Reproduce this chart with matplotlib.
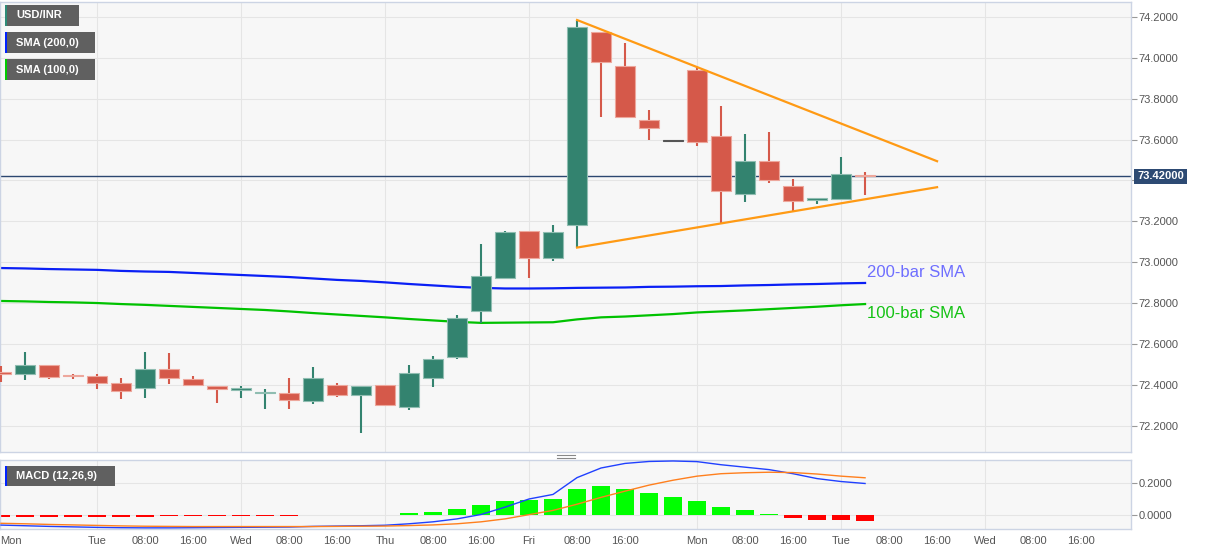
import numpy as np
import matplotlib.pyplot as plt
import matplotlib.transforms as mtransforms
from matplotlib.patches import Rectangle
from matplotlib.lines import Line2D

plt.rcParams['font.family'] = ['Liberation Sans', 'DejaVu Sans']

# --- USD/INR 4h candles (bar index 0..36) ---
opens = [72.463, 72.453, 72.497, 72.451, 72.445, 72.411, 72.385, 72.480, 72.429, 72.397,
         72.378, 72.362, 72.362, 72.324, 72.402, 72.353, 72.402, 72.292, 72.436, 72.539,
         72.762, 72.922, 73.155, 73.023, 73.181, 74.124, 73.958, 73.694, 73.594, 73.940,
         73.617, 73.334, 73.494, 73.373, 73.305, 73.311, 73.428]
highs = [72.494, 72.562, 72.499, 72.456, 72.456, 72.435, 72.562, 72.557, 72.445, 72.397,
         72.396, 72.381, 72.435, 72.489, 72.412, 72.397, 72.402, 72.498, 72.542, 72.743,
         73.090, 73.153, 73.155, 73.182, 74.180, 74.124, 74.073, 73.744, 73.596, 73.956,
         73.764, 73.627, 73.637, 73.407, 73.313, 73.516, 73.441]
lows = [72.417, 72.425, 72.432, 72.432, 72.381, 72.332, 72.339, 72.407, 72.400, 72.314,
        72.339, 72.284, 72.284, 72.309, 72.342, 72.166, 72.305, 72.279, 72.392, 72.528,
        72.702, 72.922, 72.925, 73.007, 73.072, 73.711, 73.711, 73.598, 73.592, 73.570,
        73.194, 73.296, 73.389, 73.251, 73.285, 73.311, 73.329]
closes = [72.456, 72.497, 72.438, 72.443, 72.412, 72.373, 72.479, 72.436, 72.401, 72.383,
          72.385, 72.368, 72.329, 72.436, 72.353, 72.397, 72.305, 72.458, 72.528, 72.727,
          72.935, 73.150, 73.023, 73.148, 74.151, 73.980, 73.711, 73.655, 73.594, 73.589,
          73.349, 73.495, 73.402, 73.298, 73.313, 73.433, 73.422]

sma200 = [72.972, 72.970, 72.967, 72.965, 72.963, 72.958, 72.955, 72.953, 72.948, 72.943,
          72.938, 72.933, 72.928, 72.921, 72.914, 72.909, 72.902, 72.894, 72.887, 72.880,
          72.875, 72.872, 72.872, 72.873, 72.875, 72.876, 72.877, 72.880, 72.881, 72.883,
          72.884, 72.887, 72.889, 72.892, 72.894, 72.897, 72.899]
sma100 = [72.811, 72.809, 72.806, 72.804, 72.801, 72.796, 72.792, 72.787, 72.782, 72.777,
          72.772, 72.767, 72.760, 72.752, 72.745, 72.738, 72.731, 72.723, 72.716, 72.709,
          72.704, 72.705, 72.706, 72.707, 72.721, 72.731, 72.735, 72.741, 72.747, 72.755,
          72.760, 72.765, 72.771, 72.777, 72.783, 72.790, 72.796]

# --- MACD (12,26,9) ---
macd_line = [-0.060, -0.064, -0.068, -0.071, -0.074, -0.076, -0.077, -0.077, -0.076, -0.075,
             -0.074, -0.073, -0.072, -0.068, -0.066, -0.064, -0.061, -0.052, -0.040, -0.022,
             0.005, 0.050, 0.100, 0.128, 0.231, 0.290, 0.318, 0.330, 0.333, 0.329,
             0.310, 0.295, 0.280, 0.255, 0.225, 0.207, 0.195]
signal_line = [-0.049, -0.052, -0.056, -0.059, -0.062, -0.065, -0.067, -0.068, -0.069, -0.069,
               -0.069, -0.069, -0.069, -0.069, -0.068, -0.067, -0.066, -0.063, -0.059, -0.052,
               -0.040, -0.022, 0.004, 0.030, 0.068, 0.110, 0.148, 0.185, 0.215, 0.240,
               0.255, 0.261, 0.264, 0.262, 0.253, 0.240, 0.230]
macd_hist = [-0.012, -0.012, -0.011, -0.011, -0.010, -0.009, -0.008, -0.004, -0.004, -0.003,
             -0.003, -0.002, -0.002, 0.002, 0.002, 0.003, 0.003, 0.014, 0.020, 0.040,
             0.065, 0.090, 0.096, 0.098, 0.161, 0.180, 0.163, 0.139, 0.112, 0.088,
             0.051, 0.033, 0.008, -0.015, -0.027, -0.031, -0.033]

# time axis
tick_pos = [0.42, 4, 6, 8, 10, 12, 14, 16, 18, 20, 22, 24, 26, 29, 31, 33, 35, 37, 39, 41, 43, 45]
tick_labels = ['Mon', 'Tue', '08:00', '16:00', 'Wed', '08:00', '16:00', 'Thu', '08:00', '16:00',
               'Fri', '08:00', '16:00', 'Mon', '08:00', '16:00', 'Tue', '08:00', '16:00',
               'Wed', '08:00', '16:00']
day_lines = [4, 10, 16, 22, 29, 35, 41]

# symmetrical triangle
upper_x, upper_y = [24, 39], [74.184, 73.494]
lower_x, lower_y = [24, 39], [73.072, 73.367]
last_price = 73.42

GREEN, RED, DOJI = '#33836f', '#d5594a', '#555555'
BG, GRID, SPINE = '#f7f7f7', '#e5e5e5', '#ccd4e4'

fig = plt.figure(figsize=(12.07, 5.55), dpi=100)
W, H = 1207, 555
def fbox(x0, y0, x1, y1):
    return [x0 / W, 1 - y1 / H, (x1 - x0) / W, (y1 - y0) / H]

ax = fig.add_axes(fbox(0, 2, 1131, 452))
ax2 = fig.add_axes(fbox(0, 460, 1131, 529), sharex=ax)

for a in (ax, ax2):
    a.set_facecolor(BG)
    for s in a.spines.values():
        s.set_color(SPINE)
        s.set_linewidth(1)
    a.yaxis.tick_right()
    a.tick_params(axis='y', colors='#999999', labelcolor='#555555', labelsize=8,
                  length=4, width=0.8, pad=1.5)
    for d in day_lines:
        a.axvline(d, color=GRID, lw=0.8, zorder=0)

# --- candles ---
n = len(opens)
xs = np.arange(n)
bw = 0.8
for i in range(n):
    o, h, l, c = opens[i], highs[i], lows[i], closes[i]
    if c > o:
        col, edge = GREEN, '#8fbdb1'
    elif c < o:
        col, edge = RED, '#eda79c'
    else:
        col, edge = DOJI, DOJI
    ax.vlines(xs[i], l, h, color=col, lw=1.5, zorder=3)
    bot = min(o, c)
    hgt = max(abs(c - o), 0.003)
    ax.add_patch(Rectangle((xs[i] - bw / 2, bot), bw, hgt, facecolor=col,
                           edgecolor=edge, lw=0.8, zorder=4))

ax.plot(xs, sma200, color='#0a1ff5', lw=1.6, zorder=2)
ax.plot(xs, sma100, color='#00c200', lw=1.6, zorder=2)
ax.text(36.1, sma200[-1] + 0.05, '200-bar SMA', color='#6e6eff', fontsize=12, va='center')
ax.text(36.1, sma100[-1] - 0.045, '100-bar SMA', color='#14c214', fontsize=12, va='center')

ax.plot(upper_x, upper_y, color='#ff9a14', lw=1.6, zorder=5)
ax.plot(lower_x, lower_y, color='#ff9a14', lw=1.6, zorder=5)

ax.axhline(last_price, color='#2c4770', lw=1, zorder=2)
blend = mtransforms.blended_transform_factory(ax.transAxes, ax.transData)
ax.text(1.0055, last_price, '%.5f' % last_price, transform=blend, color='white',
        fontsize=8, fontweight='bold', va='center', ha='left',
        bbox=dict(boxstyle='square,pad=0.25', fc='#2d4a73', ec='none'))

# the 73.4 label sits under the last-price tag, so it is left blank
yt = np.round(np.arange(72.2, 74.21, 0.2), 1)
ax.set_ylim(72.073, 74.272)
ax.set_yticks(yt)
ax.set_yticklabels(['' if v == 73.4 else '%.4f' % v for v in yt])
ax.grid(axis='y', color=GRID, lw=0.8)
ax.set_axisbelow(True)
ax.tick_params(axis='x', which='both', length=0, labelbottom=False)

# --- MACD panel ---
hcol = ['#00ff00' if v >= 0 else '#ff0000' for v in macd_hist]
ax2.bar(xs, macd_hist, width=0.78, color=hcol, zorder=2)
ax2.plot(xs, macd_line, color='#2040ff', lw=1, zorder=3)
ax2.plot(xs, signal_line, color='#ff7f1e', lw=1, zorder=3)
ax2.set_ylim(-0.084, 0.339)
ax2.set_yticks([0.0, 0.2])
ax2.set_yticklabels(['0.0000', '0.2000'])
ax2.grid(axis='y', color=GRID, lw=0.8)
ax2.set_axisbelow(True)
ax2.set_xlim(-0.042, 47.08)
ax2.set_xticks(tick_pos)
ax2.set_xticklabels(tick_labels)
ax2.tick_params(axis='x', length=0, labelsize=8, labelcolor='#555555', pad=5)

# --- indicator tags ---
def tag(x0, y0, x1, y1, strip, label):
    fig.add_artist(Rectangle((x0 / W, 1 - y1 / H), (x1 - x0) / W, (y1 - y0) / H,
                             transform=fig.transFigure, fc='#606060', ec='none'))
    fig.add_artist(Rectangle((x0 / W, 1 - y1 / H), 2.2 / W, (y1 - y0) / H,
                             transform=fig.transFigure, fc=strip, ec='none'))
    fig.text((x0 + 11) / W, 1 - (y0 + y1) / 2 / H, label, color='white', fontsize=8,
             fontweight='bold', va='center', ha='left')

tag(5, 5, 79, 26, '#2e8b77', 'USD/INR')
tag(5, 32, 95, 53, '#0022ff', 'SMA (200,0)')
tag(5, 59, 95, 80, '#00cc00', 'SMA (100,0)')
tag(5, 466, 115, 486, '#0022ff', 'MACD (12,26,9)')

# pane separator handle
for yy in (454.5, 457.5):
    fig.add_artist(Line2D([557 / W, 575 / W], [1 - yy / H, 1 - yy / H],
                          transform=fig.transFigure, color='#888888', lw=0.8))

plt.savefig('out.png', dpi=100)
